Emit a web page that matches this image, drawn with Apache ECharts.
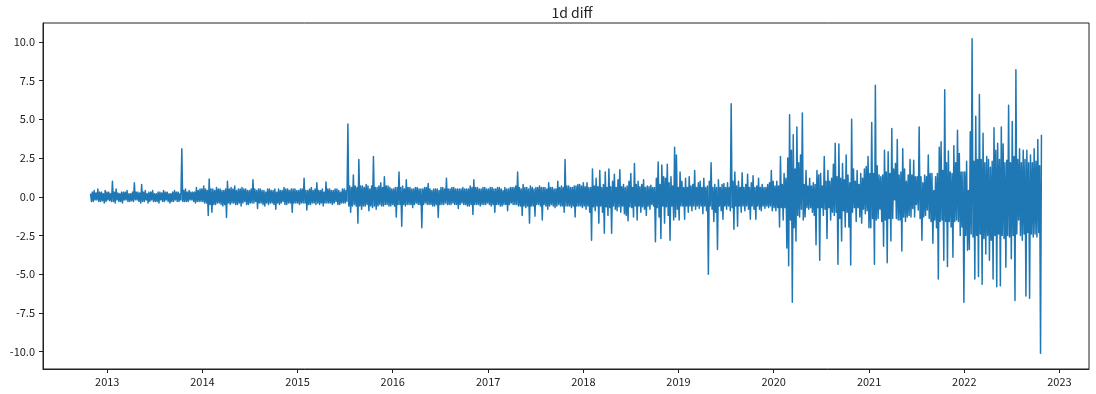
<!DOCTYPE html>
<html>
<head>
<meta charset="utf-8">
<script src="https://cdn.jsdelivr.net/npm/echarts@6/dist/echarts.min.js"></script>
<style>
html,body{margin:0;padding:0;background:#fff;}
#chart{width:1096px;height:394px;}
</style>
</head>
<body>
<div id="chart"></div>
<script>
// ---- data: half-weekly readings of the 1-day difference ----
const chartTitle = '1d diff';
const firstDate = [2012, 9, 29];   // 2012-10-29 (UTC, month 0-based)
const stepDays = 3.5;

const d2012 = [0.2,-0.3, 0.3,-0.3, 0.4,-0.2, 0.25,-0.2, 0.5,-0.3, 0.3,-0.3, 0.3,-0.25, 0.2,-0.4, 0.4,-0.3];
const d2013 = [0.3,-0.2, 0.3,-0.25, 0.2,-0.3, 1.0,-0.3, 0.3,-0.4, 0.5,-0.2, 0.25,-0.3, 0.2,-0.3, 0.3,-0.4, 0.3,-0.2,
  0.3,-0.2, 0.4,-0.3, 0.2,-0.3, 0.2,-0.25, 0.3,-0.3, 0.9,-0.2, 0.3,-0.2, 0.3,-0.3, 0.25,-0.4, 0.8,-0.3,
  0.3,-0.3, 0.4,-0.2, 0.2,-0.4, 0.3,-0.3, 0.3,-0.2, 0.4,-0.3, 0.2,-0.3, 0.2,-0.3, 0.3,-0.4, 0.3,-0.2,
  0.25,-0.3, 0.4,-0.3, 0.3,-0.2, 0.3,-0.3, 0.2,-0.4, 0.2,-0.3, 0.3,-0.3, 0.4,-0.2, 0.3,-0.3, 0.3,-0.3,
  0.2,-0.2, 3.1,-0.3, 0.4,-0.3, 0.5,-0.3, 0.3,-0.3, 0.4,-0.2, 0.3,-0.2, 0.3,-0.3, 0.3,-0.4, 0.6,-0.3,
  0.4,-0.3, 0.5,-0.3];
const d2014 = [0.5,-0.3, 0.7,-0.4, 0.5,-0.4, 0.4,-1.2, 1.15,-0.5, 0.5,-1.0, 0.5,-0.5, 0.4,-0.5, 0.6,-0.4, 0.5,-0.4,
  0.5,-0.5, 0.4,-0.6, 0.4,-0.5, 0.5,-1.33, 1.0,-0.4, 0.5,-0.5, 0.6,-0.4, 0.5,-0.4, 0.7,-0.5, 0.4,-0.5,
  0.5,-0.4, 0.5,-0.6, 0.6,-0.4, 0.5,-0.3, 0.5,-0.5, 0.4,-0.5, 0.4,-0.4, 0.5,-0.4, 1.1,-0.4, 0.5,-0.3,
  0.4,-0.75, 0.5,-0.4, 0.5,-0.4, 0.4,-0.5, 0.4,-0.6, 0.3,-0.4, 0.5,-0.5, 0.5,-0.4, 0.4,-0.4, 0.4,-0.5,
  0.5,-0.8, 0.3,-0.4, 0.5,-0.5, 0.4,-0.4, 0.4,-0.3, 0.6,-0.5, 0.5,-0.5, 0.5,-0.4, 0.4,-0.4, 0.5,-1.0,
  0.5,-0.4, 0.5,-0.4];
const d2015 = [0.4,-0.4, 0.4,-0.5, 0.5,-0.4, 0.5,-0.4, 1.2,-0.4, 0.4,-0.85, 0.4,-0.5, 0.5,-0.5, 0.6,-0.4, 0.4,-0.4,
  0.5,-0.5, 0.9,-0.4, 0.4,-0.5, 0.4,-0.4, 0.5,-0.6, 0.3,-0.4, 0.95,-0.4, 0.5,-0.4, 0.5,-0.4, 0.4,-0.5,
  0.4,-0.4, 0.5,-0.3, 0.5,-0.5, 0.4,-0.5, 0.3,-0.4, 0.5,-0.4, 0.5,-0.4, 0.4,-0.3, 4.7,-0.6, 0.7,-1.0,
  0.6,-0.6, 1.4,-0.5, 0.7,-0.6, 0.6,-1.7, 2.4,-0.6, 0.7,-0.8, 0.7,-0.6, 0.6,-0.6, 0.8,-0.5, 0.7,-0.9,
  0.5,-0.6, 0.7,-0.7, 2.6,-0.6, 0.6,-0.8, 0.6,-0.6, 0.7,-0.5, 0.9,-0.6, 0.6,-0.6, 1.3,-0.5, 0.7,-0.5,
  0.7,-0.6, 0.6,-0.6];
const d2016 = [0.5,-0.5, 0.5,-0.6, 0.6,-1.3, 0.6,-0.5, 1.6,-0.5, 0.6,-1.9, 0.7,-0.5, 0.5,-0.6, 1.1,-0.5, 0.6,-0.5,
  0.6,-0.5, 0.5,-0.7, 0.5,-0.5, 0.6,-0.4, 0.6,-0.5, 0.5,-0.5, 0.5,-2.0, 0.5,-0.5, 0.6,-0.4, 0.6,-0.5,
  0.85,-0.5, 0.5,-0.5, 0.4,-0.6, 0.5,-0.6, 0.5,-0.5, 0.5,-1.33, 0.4,-0.5, 0.6,-0.5, 0.6,-0.5, 0.5,-0.4,
  1.2,-0.5, 0.5,-0.5, 0.5,-0.5, 0.6,-0.4, 0.6,-0.5, 0.5,-0.5, 0.5,-0.75, 0.5,-0.5, 0.5,-0.4, 0.6,-0.5,
  0.5,-0.5, 0.5,-0.6, 0.5,-0.6, 0.7,-0.5, 0.6,-1.15, 1.1,-0.5, 0.6,-0.5, 0.6,-0.5, 0.5,-0.6, 0.5,-0.5,
  0.6,-0.5, 0.6,-0.5, 0.5,-0.4];
const d2017 = [0.5,-0.5, 0.6,-0.6, 0.6,-0.5, 0.5,-1.0, 0.5,-0.5, 0.6,-0.5, 0.6,-0.6, 0.5,-0.6, 0.4,-0.5, 0.6,-0.5,
  0.5,-0.9, 0.5,-0.5, 0.6,-0.4, 0.6,-0.5, 0.6,-0.5, 0.7,-0.5, 1.6,-0.6, 0.6,-0.6, 0.5,-1.2, 0.8,-0.6,
  0.6,-0.7, 0.6,-0.6, 0.5,-1.7, 0.7,-0.6, 0.6,-0.6, 0.5,-1.25, 0.6,-0.5, 0.6,-0.5, 0.7,-0.6, 0.6,-1.5,
  0.6,-0.5, 0.6,-0.6, 0.5,-0.8, 0.9,-0.6, 0.6,-0.5, 0.6,-0.6, 0.5,-0.7, 0.5,-0.6, 1.0,-0.5, 0.6,-0.6,
  0.7,-0.6, 0.6,-1.0, 2.4,-0.6, 0.7,-0.6, 0.7,-0.6, 0.6,-0.7, 0.6,-0.6, 0.7,-1.3, 0.7,-0.6, 0.8,-0.6,
  0.8,-0.6, 0.7,-0.7];
const d2018 = [0.9,-0.6, 0.65,-0.8, 0.9,-0.6, 0.6,-1.0, 0.6,-2.8, 1.8,-0.65, 0.7,-0.9, 1.2,-0.6, 0.65,-1.7, 1.7,-0.6,
  0.6,-1.0, 0.8,-2.35, 1.6,-0.65, 0.6,-1.2, 1.8,-0.7, 0.65,-2.35, 1.0,-0.6, 1.45,-0.8, 0.6,-0.9, 1.1,-0.65,
  1.75,-1.0, 0.65,-0.6, 0.8,-1.1, 0.6,-1.2, 0.7,-1.55, 1.0,-0.65, 1.5,-0.7, 0.6,-1.3, 2.15,-0.6, 0.8,-1.5,
  1.0,-0.6, 0.65,-1.0, 0.8,-0.65, 1.1,-0.8, 0.6,-1.2, 0.7,-0.6, 0.65,-0.8, 0.75,-0.5, 0.6,-0.6, 0.6,-2.9,
  1.2,-0.7, 2.25,-1.3, 0.8,-2.7, 2.05,-0.6, 1.3,-1.7, 1.2,-0.65, 2.1,-1.2, 0.9,-2.8, 1.3,-0.6, 0.7,-1.5,
  3.2,-1.3, 2.7,-0.8];
const d2019 = [0.6,-1.5, 1.6,-0.6, 1.0,-0.6, 0.6,-1.45, 1.2,-0.6, 0.6,-1.0, 1.3,-0.6, 0.7,-0.9, 0.8,-0.6, 1.7,-0.8,
  0.6,-0.6, 0.9,-0.75, 1.0,-0.6, 0.6,-1.1, 1.2,-0.6, 0.6,-0.9, 0.7,-5.0, 1.0,-0.6, 2.2,-0.8, 0.6,-1.6,
  0.8,-1.0, 0.6,-3.4, 1.1,-0.6, 0.6,-0.9, 0.8,-1.45, 0.85,-0.6, 0.6,-0.8, 0.9,-0.6, 0.6,-0.9, 6.0,-0.7,
  1.0,-2.1, 1.6,-0.6, 0.7,-1.9, 1.0,-0.6, 0.6,-1.0, 1.55,-0.6, 0.6,-0.9, 0.8,-0.6, 1.45,-0.8, 0.6,-1.45,
  0.9,-0.6, 1.35,-0.8, 0.6,-1.45, 0.7,-0.6, 1.2,-0.8, 0.6,-0.9, 0.8,-0.6, 0.6,-0.75, 0.6,-0.6, 0.8,-0.7,
  0.9,-0.6, 1.7,-0.9];
const d2020 = [1.0,-0.7, 0.7,-0.9, 1.0,-0.7, 0.7,-1.95, 2.6,-0.7, 0.8,-1.5, 1.5,-0.7, 1.2,-3.3, 2.5,-4.45, 5.3,-1.5,
  3.0,-6.8, 4.0,-2.0, 1.8,-2.85, 4.5,-1.2, 2.2,-1.3, 2.7,-0.8, 5.4,-1.5, 0.8,-1.3, 1.7,-0.7, 0.7,-0.8,
  1.2,-0.7, 0.7,-1.0, 0.9,-1.2, 0.8,-3.1, 1.7,-0.7, 1.4,-4.1, 1.5,-0.7, 0.7,-1.2, 2.6,-0.8, 1.0,-2.7,
  1.7,-0.7, 1.0,-1.5, 1.2,-1.0, 2.1,-1.2, 3.45,-1.0, 1.3,-4.35, 3.4,-1.4, 1.2,-2.85, 2.15,-0.9, 1.1,-1.95,
  2.7,-1.0, 1.4,-1.95, 0.9,-4.4, 5.0,-1.0, 1.8,-0.7, 1.0,-1.6, 1.7,-0.7, 0.8,-1.3, 1.5,-1.7, 1.2,-0.8,
  1.8,-1.1, 1.95,-0.9, 2.6,-2.0];
const d2021 = [1.5,-2.0, 4.8,-1.4, 1.5,-4.35, 7.2,-1.5, 2.0,-1.4, 1.4,-0.8, 1.3,-1.6, 1.4,-3.2, 3.0,-1.5, 1.6,-4.25,
  2.9,-1.4, 1.5,-2.85, 4.4,-1.4, 1.8,-0.2, 2.15,-1.4, 3.7,-1.5, 1.4,-1.5, 1.6,-3.5, 3.1,-1.3, 1.8,-1.6,
  1.0,-1.3, 1.4,-1.2, 2.4,-1.3, 1.4,-0.75, 2.35,-1.3, 1.3,-0.5, 1.3,-0.85, 4.5,-1.4, 1.3,-2.8, 0.9,-1.3,
  1.4,-1.2, 1.3,-0.85, 2.7,-1.4, 1.5,-1.6, 1.5,-3.0, 0.4,-1.5, 1.3,-2.0, 1.5,-5.3, 3.2,-1.6, 3.55,-1.5,
  1.7,-4.1, 6.9,-1.6, 2.2,-4.5, 2.95,-1.6, 1.6,-1.95, 1.5,-3.9, 3.3,-1.6, 2.2,-1.5, 4.3,-1.6, 2.8,-2.5,
  1.6,-1.95, 1.6,-6.8];
const d2022 = [1.6,-2.5, 2.3,-3.45, 0.4,-3.4, 4.2,-2.4, 10.2,-2.6, 2.3,-5.3, 5.2,-2.5, 2.4,-5.15, 6.6,-2.4, 2.4,-5.65,
  4.1,-2.7, 2.2,-3.7, 2.6,-2.5, 2.4,-4.1, 1.9,-2.8, 2.3,-5.3, 4.45,-2.5, 3.0,-5.8, 3.45,-2.4, 2.4,-5.75,
  4.5,-2.5, 3.4,-2.7, 2.2,-4.55, 2.35,-2.5, 5.9,-2.6, 2.2,-4.0, 4.85,-2.5, 2.6,-6.7, 8.2,-2.4, 2.4,-1.5,
  3.1,-2.5, 2.2,-2.8, 3.0,-2.4, 2.4,-6.4, 3.0,-2.3, 2.2,-6.55, 2.7,-2.4, 2.2,-2.6, 3.1,-2.4, 2.3,-2.6,
  3.7,-2.3, 2.0,-10.1, 4.0];

const yTickValues = [-10, -7.5, -5, -2.5, 0, 2.5, 5, 7.5, 10];
const xTickYears = [2013, 2014, 2015, 2016, 2017, 2018, 2019, 2020, 2021, 2022, 2023];

// ---- build ----
const DAY = 86400000;
const values = [].concat(d2012, d2013, d2014, d2015, d2016, d2017, d2018, d2019, d2020, d2021, d2022);
const t0 = Date.UTC(firstDate[0], firstDate[1], firstDate[2]);
const seriesData = values.map((v, i) => [t0 + i * stepDays * DAY, v]);
const tFirst = seriesData[0][0];
const tLast = seriesData[seriesData.length - 1][0];
const pad = (tLast - tFirst) * 0.05;
const vMin = Math.min.apply(null, values), vMax = Math.max.apply(null, values);
const yLo = vMin - (vMax - vMin) * 0.05;
const yHi = vMax + (vMax - vMin) * 0.05;
const xTickValues = xTickYears.map(y => Date.UTC(y, 0, 1));

const FONT = "'Noto Sans CJK KR', 'Noto Sans', sans-serif";
const chart = echarts.init(document.getElementById('chart'), null, {renderer: 'canvas'});
chart.setOption({
  animation: false,
  useUTC: true,
  backgroundColor: '#ffffff',
  title: {
    text: chartTitle,
    left: 567,
    top: 1,
    textAlign: 'center',
    textStyle: {fontFamily: FONT, fontSize: 14, fontWeight: 'normal', color: '#222'}
  },
  grid: {
    left: 43, right: 7, top: 23, bottom: 25,
    show: true, borderColor: '#222', borderWidth: 1,
    containLabel: false, outerBoundsMode: 'none'
  },
  xAxis: {
    type: 'value',
    min: tFirst - pad,
    max: tLast + pad,
    splitLine: {show: false},
    axisLine: {show: true, onZero: false, lineStyle: {color: '#222', width: 1}},
    axisTick: {show: true, customValues: xTickValues, length: 4, lineStyle: {color: '#222'}},
    axisLabel: {
      customValues: xTickValues, margin: 7, color: '#222', fontFamily: FONT, fontSize: 11,
      formatter: v => String(new Date(v).getUTCFullYear())
    }
  },
  yAxis: {
    type: 'value',
    min: yLo,
    max: yHi,
    splitLine: {show: false},
    axisLine: {show: true, onZero: false, lineStyle: {color: '#222', width: 1}},
    axisTick: {show: true, customValues: yTickValues, length: 4, lineStyle: {color: '#222'}},
    axisLabel: {
      customValues: yTickValues, margin: 8, color: '#222', fontFamily: FONT, fontSize: 11,
      formatter: v => v.toFixed(1)
    }
  },
  series: [{
    type: 'line',
    data: seriesData,
    showSymbol: false,
    symbol: 'none',
    sampling: null,
    clip: true,
    lineStyle: {color: '#1f77b4', width: 1.5, join: 'round'},
    itemStyle: {color: '#1f77b4'}
  }]
});
</script>
</body>
</html>
